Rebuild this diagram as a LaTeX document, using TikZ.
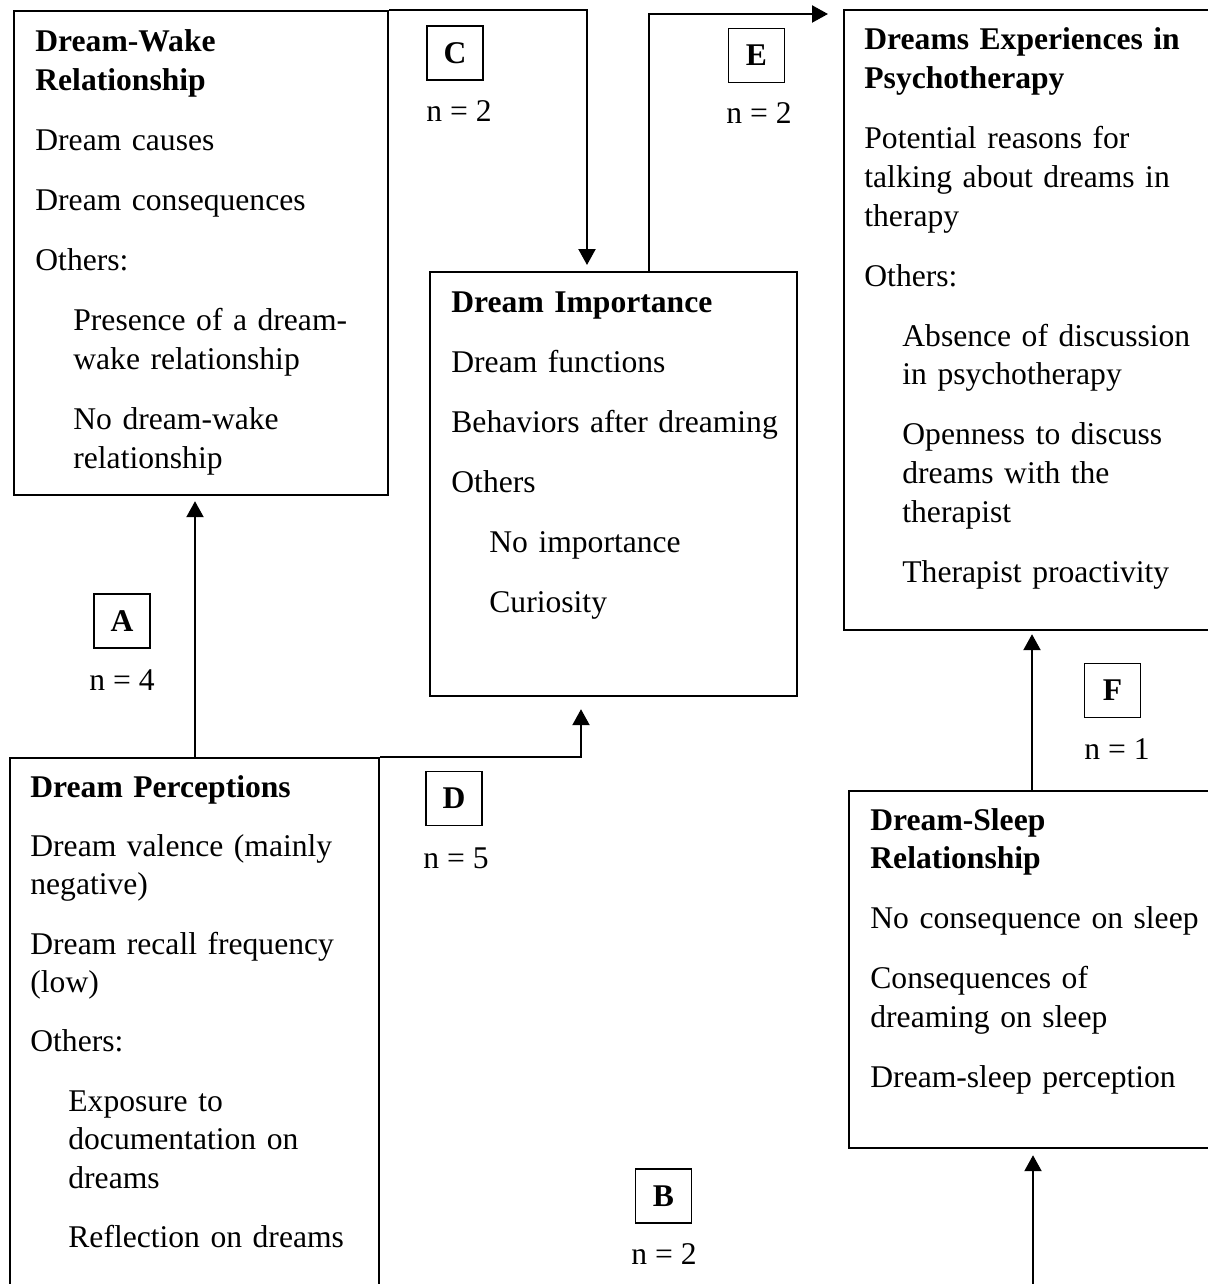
\documentclass[tikz,border=0pt]{standalone}
\usepackage{fontspec}
\setmainfont{Liberation Serif}
\usetikzlibrary{arrows.meta,calc}
\newcommand\ind{\hspace*{19pt}}
\newcommand\pp{\\[10.625pt]}
\begin{document}
\begin{tikzpicture}[x=0.5pt,y=-0.5pt,
  mainbox/.style={draw,line width=1.1pt,rectangle,inner sep=0pt,anchor=north west},
  lbl/.style={draw,line width=0.75pt,minimum width=28pt,minimum height=27pt,inner sep=0pt,font=\fontsize{15.8pt}{19pt}\selectfont\bfseries},
  nlab/.style={anchor=base,inner sep=0pt,font=\fontsize{15.8pt}{19pt}\selectfont},
  txt/.style={anchor=base west,inner sep=0pt,text width=220pt,align=left,font=\fontsize{15.8pt}{19.375pt}\selectfont},
  arr/.style={line width=1.1pt,-{Triangle[length=8pt,width=8.5pt]}}]
\useasboundingbox (0,0) rectangle (1208,1284);
\clip (0,0) rectangle (1208,1284);

% main boxes
\node[mainbox,minimum width=187pt,minimum height=242pt] (wake) at (13,10) {};
\node[mainbox,minimum width=183.5pt,minimum height=212pt] (imp) at (429,271) {};
\node[mainbox,minimum width=200pt,minimum height=310pt] (exp) at (843,9) {};
\node[mainbox,minimum width=184.5pt,minimum height=300pt] (perc) at (9,757) {};
\node[mainbox,minimum width=200pt,minimum height=178.5pt] (sleep) at (848,790) {};

% box texts
\node[txt] (wakeT) at (35,52) {\textbf{Dream-Wake}\\\textbf{Relationship}\pp Dream causes\pp Dream consequences\pp Others:\pp\ind Presence of a dream-\\\ind wake relationship\pp\ind No dream-wake\\\ind relationship};
\node[txt] (impT) at (451,312) {\textbf{Dream Importance}\pp Dream functions\pp Behaviors after dreaming\pp Others\pp\ind No importance\pp\ind Curiosity};
\node[txt] (expT) at (864,50) {\textbf{Dreams Experiences in}\\\textbf{Psychotherapy}\pp Potential reasons for\\talking about dreams in\\therapy\pp Others:\pp\ind Absence of discussion\\\ind in psychotherapy\pp\ind Openness to discuss\\\ind dreams with the\\\ind therapist\pp\ind Therapist proactivity};
\node[txt] (percT) at (30,797) {\textbf{Dream Perceptions}\\[10.2pt]Dream valence (mainly\\negative)\\[10.2pt]Dream recall frequency\\(low)\\[10.2pt]Others:\\[10.2pt]\ind Exposure to\\\ind documentation on\\\ind dreams\\[10.2pt]\ind Reflection on dreams};
\node[txt] (sleepT) at (870,830) {\textbf{Dream-Sleep}\\\textbf{Relationship}\pp No consequence on sleep\pp Consequences of\\dreaming on sleep\pp Dream-sleep perception};

% label boxes
\node[lbl] (A) at (122,621) {A};
\node[lbl] (C) at (455,53) {C};
\node[lbl] (E) at (756.5,55.5) {E};
\node[lbl] (F) at (1112.5,690.5) {F};
\node[lbl] (D) at (454,798.5) {D};
\node[lbl] (B) at (663.5,1196) {B};

% n labels
\node[nlab] (nA) at (122,690) {n = 4};
\node[nlab] (nC) at (459,121) {n = 2};
\node[nlab] (nE) at (759,124) {n = 2};
\node[nlab] (nF) at (1117,759) {n = 1};
\node[nlab] (nD) at (456,868) {n = 5};
\node[nlab] (nB) at (664,1264) {n = 2};

% connectors
\coordinate (a0) at ($(perc.north west)+(186,0)$);
\draw[arr,shorten >=2.5pt] (a0) -- (a0 |- wake.south);

\coordinate (c1) at ($(imp.north west)+(158,0)$);
\draw[arr,shorten >=3pt] (wake.north east) -| (c1);

\coordinate (e0) at ($(imp.north west)+(220,0)$);
\coordinate (e1) at ($(exp.north west)+(-15,5)$);
\draw[arr] (e0) |- (e1);

\coordinate (d1) at ($(imp.south west)+(152,0)$);
\draw[arr,shorten >=6pt] (perc.north east) -| (d1);

\coordinate (f0) at ($(sleep.north west)+(184,0)$);
\draw[arr,shorten >=1.5pt] (f0) -- (f0 |- exp.south);

\coordinate (b0) at ($(sleep.south west)+(185,160)$);
\draw[arr,shorten >=3pt] (b0) -- (b0 |- sleep.south);
\end{tikzpicture}
\end{document}
